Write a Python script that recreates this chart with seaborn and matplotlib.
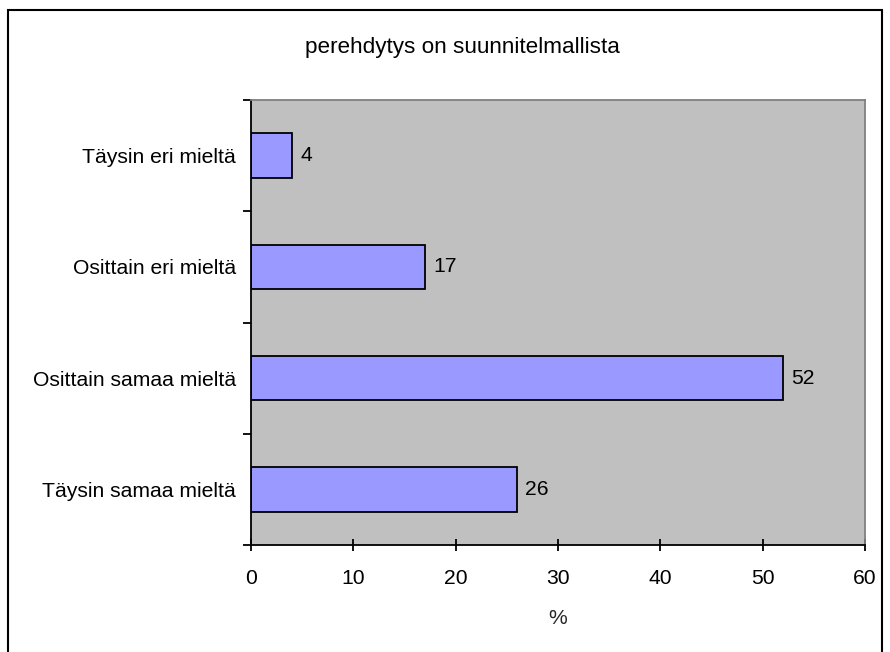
import matplotlib
matplotlib.use("Agg")
import matplotlib.pyplot as plt
from matplotlib.patches import Rectangle
from matplotlib.ticker import FixedLocator
import seaborn as sns
import pandas as pd

# Survey answers (%) for the statement "perehdytys on suunnitelmallista"
categories = ["Täysin eri mieltä", "Osittain eri mieltä",
              "Osittain samaa mieltä", "Täysin samaa mieltä"]
percentages = [4, 17, 52, 26]
x_ticks = [0, 10, 20, 30, 40, 50, 60]
title = "perehdytys on suunnitelmallista"
x_label = "%"

df = pd.DataFrame({"vastaus": categories, "osuus": percentages})

sns.set_theme(style="white")
plt.rcParams["font.family"] = ["Liberation Sans", "DejaVu Sans"]

fig = plt.figure(figsize=(8.9, 6.52), dpi=100)
ax = fig.add_axes([251 / 890, 1 - 545 / 652, (865 - 251) / 890, (545 - 100) / 652])

sns.barplot(data=df, x="osuus", y="vastaus", order=categories, orient="h",
            color="#9999FF", saturation=1, width=0.4,
            edgecolor="black", linewidth=1.3, ax=ax)

ax.set_facecolor("#C0C0C0")
ax.set_xlim(0, 60)
ax.set_ylim(3.5, -0.5)
ax.set_xticks(x_ticks)
ax.set_xticklabels([str(t) for t in x_ticks])
ax.set_ylabel("")
ax.set_xlabel(x_label, fontsize=15.2, labelpad=15.5)

# category labels without marks, separator ticks between categories
ax.tick_params(axis="y", which="major", length=0, pad=11, labelsize=15.2,
               colors="black")
ax.yaxis.set_minor_locator(FixedLocator([-0.5, 0.5, 1.5, 2.5, 3.5]))
ax.tick_params(axis="y", which="minor", left=True, direction="out",
               length=6, width=1.3, color="black")
ax.tick_params(axis="x", which="major", bottom=True, direction="inout",
               length=8.5, width=1.3, pad=13, labelsize=15.2, colors="black")

for side in ["left", "bottom"]:
    ax.spines[side].set_color("black")
    ax.spines[side].set_linewidth(1.3)
for side in ["top", "right"]:
    ax.spines[side].set_visible(True)
    ax.spines[side].set_color("#808080")
    ax.spines[side].set_linewidth(1.3)

for container in ax.containers:
    ax.bar_label(container, labels=[str(v) for v in percentages],
                 padding=6, fontsize=15.2, color="black")

fig.text(462 / 890, 1 - 47 / 652, title, ha="center", va="center",
         fontsize=16.2, color="black")

# outer chart frame
fig.patches.append(Rectangle((8 / 890, -0.05), (882 - 8) / 890, 1 - 10 / 652 + 0.05,
                             transform=fig.transFigure, fill=False,
                             edgecolor="black", linewidth=1.5))

fig.savefig("out.png", dpi=100)
